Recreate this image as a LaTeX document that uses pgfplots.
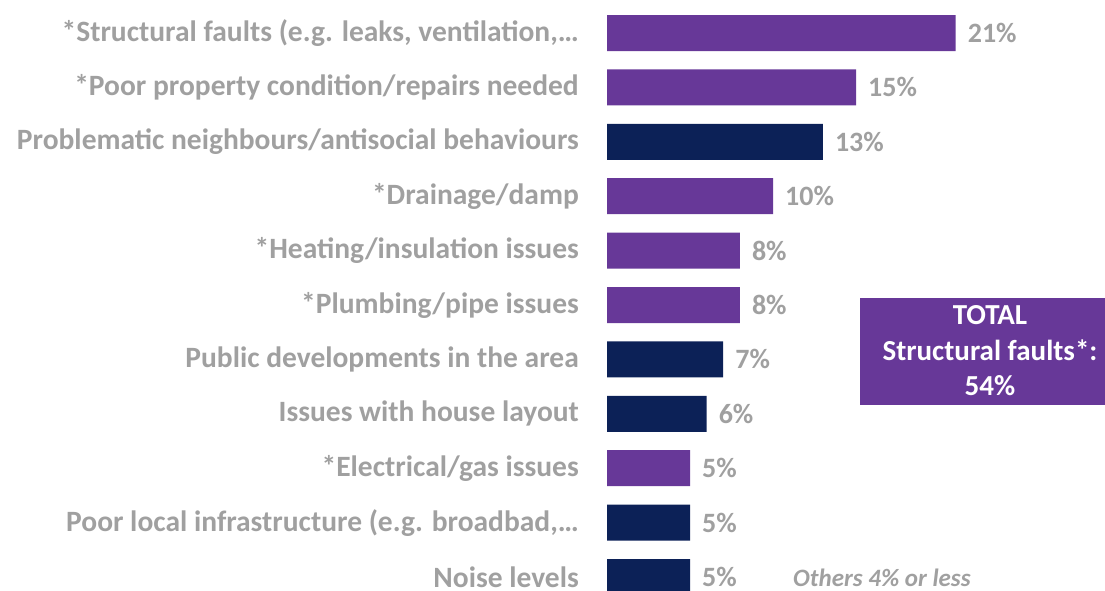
\documentclass[border=0pt]{standalone}
\usepackage{pgfplots}
\pgfplotsset{compat=1.18}
\usepackage{fontspec}
\setmainfont{Carlito}
\definecolor{cpurple}{RGB}{103,56,152}
\definecolor{cnavy}{RGB}{12,33,87}
\definecolor{cgray}{RGB}{160,160,160}
\begin{document}
\begin{tikzpicture}[x=1pt,y=1pt]
\path[use as bounding box] (0,0) rectangle (1105,591);
\clip (0,0) rectangle (1105,591);
\begin{axis}[
  at={(607pt,0pt)}, anchor=south west,
  scale only axis, width=498pt, height=591pt,
  xmin=0, xmax=30, ymin=-0.607, ymax=10.257,
  y dir=reverse,
  xbar, bar width=36pt, bar shift=0pt,
  axis line style={draw=none},
  xtick=\empty,
  ytick={0,...,10},
  /pgf/number format/assume math mode=true,
  yticklabels={{*Structural faults (e.g. leaks, ventilation,\dots},
    {*Poor property condition/repairs needed},
    {Problematic neighbours/antisocial behaviours},
    {*Drainage/damp},
    {*Heating/insulation issues},
    {*Plumbing/pipe issues},
    {Public developments in the area},
    {Issues with house layout},
    {*Electrical/gas issues},
    {Poor local infrastructure (e.g. broadbad,\dots},
    {Noise levels}},
  major tick length=0pt,
  yticklabel style={font=\bfseries\fontsize{29.5}{34}\selectfont, text=cgray, anchor=east, inner sep=0pt, xshift=-28pt},
  nodes near coords={\pgfmathprintnumber{\pgfplotspointmeta}\%},
  nodes near coords style={font=\bfseries\fontsize{28}{32}\selectfont, text=cgray, anchor=west, inner sep=0pt, xshift=12pt},
  clip=false,
]
\addplot[fill=cpurple, draw=none] coordinates {(21,0) (15,1) (10,3) (8,4) (8,5) (5,8)};
\addplot[fill=cnavy, draw=none] coordinates {(13,2) (7,6) (6,7) (5,9) (5,10)};
\end{axis}
\fill[cpurple] (860,186) rectangle (1130,293);
\node[text=white, font=\bfseries\fontsize{29}{35.5}\selectfont, align=center] at (990,240) {TOTAL\\Structural faults*:\\54\%};
\node[text=cgray, font=\bfseries\itshape\fontsize{25}{29}\selectfont, anchor=west, inner sep=0pt] at (793,13) {Others 4\% or less};
\end{tikzpicture}
\end{document}
